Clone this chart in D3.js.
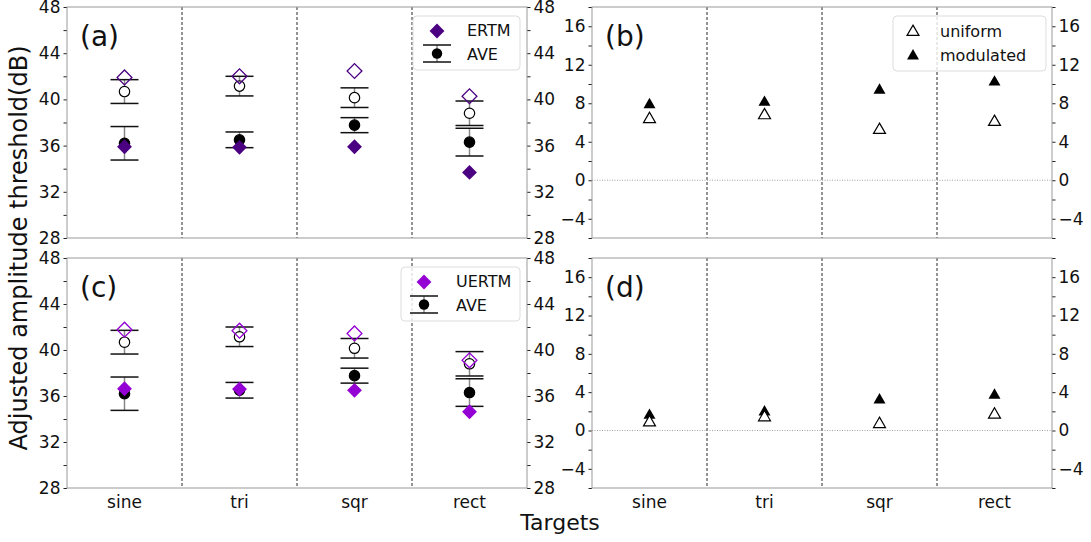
<!DOCTYPE html>
<html lang="en">
<head>
  <meta charset="UTF-8" />
  <title>Adjusted amplitude threshold</title>
  <script src="https://d3js.org/d3.v7.min.js"></script>
  <style>
    body { margin: 0; background: #fff; }
    svg { display: block; font-family: "DejaVu Sans", sans-serif; }
    .tick line { stroke: #222; }
  </style>
</head>
<body>
  <svg id="chart" width="1091" height="542"></svg>
  <script>
    const targets = ["sine", "tri", "sqr", "rect"];

    // AVE (same in panels a and c): uniform = open circle, modulated = filled circle
    const aveUniform = [40.68, 41.15, 40.15, 38.8];
    const aveUniformErr = [1.03, 0.85, 0.85, 1.06];
    const aveModulated = [36.2, 36.5, 37.77, 36.3];
    const aveModulatedErr = [1.45, 0.68, 0.65, 1.2];

    // ERTM (panel a) and UERTM (panel c): open = uniform, filled = modulated
    const ertmUniform = [41.9, 42.0, 42.46, 40.27];
    const ertmModulated = [35.9, 35.85, 35.9, 33.68];
    const uertmUniform = [41.77, 41.68, 41.44, 39.1];
    const uertmModulated = [36.63, 36.6, 36.49, 34.63];

    // panels b and d
    const bUniform = [6.35, 6.75, 5.22, 6.05];
    const bModulated = [7.85, 8.1, 9.35, 10.2];
    const dUniform = [0.84, 1.37, 0.67, 1.65];
    const dModulated = [1.58, 1.93, 3.19, 3.68];

    const leftTicks = [28, 32, 36, 40, 44, 48];
    const leftMinor = [30, 34, 38, 42, 46];
    const rightTicks = [-4, 0, 4, 8, 12, 16];
    const rightMinor = [-6, -2, 2, 6, 10, 14, 18];

    const svg = d3.select("#chart");

    const diamond = d3.symbol().type(d3.symbolSquare).size(110);
    const tri = d3.symbol().type(d3.symbolTriangle).size(62);

    function styleTicks(s) {
      s.select(".domain").remove();
      s.attr("font-family", "DejaVu Sans, sans-serif");
      s.selectAll("text").attr("font-size", 17).attr("fill", "#111");
    }

    function panel(box, domain, majors, minors, label, showX) {
      const x = d3.scaleBand().domain(targets).range([box.x0, box.x1]);
      const y = d3.scaleLinear().domain(domain).range([box.y1, box.y0]);
      const g = svg.append("g");

      // dashed separators
      g.selectAll("line.sep")
        .data(targets.slice(1))
        .join("line")
        .attr("x1", d => x(d)).attr("x2", d => x(d))
        .attr("y1", box.y0).attr("y2", box.y1)
        .attr("stroke", "#111").attr("stroke-width", 0.9)
        .attr("stroke-dasharray", "3,2");

      // axes: left and right with major and minor ticks
      [[d3.axisLeft, box.x0], [d3.axisRight, box.x1]].forEach(([ax, pos]) => {
        g.append("g").attr("transform", `translate(${pos},0)`)
          .call(ax(y).tickValues(majors).tickSize(3.5).tickPadding(3).tickFormat(d3.format("d")))
          .call(styleTicks);
        g.append("g").attr("transform", `translate(${pos},0)`)
          .call(ax(y).tickValues(minors).tickSize(3.5).tickFormat(""))
          .call(styleTicks);
      });

      if (showX) {
        g.append("g").attr("transform", `translate(0,${box.y1})`)
          .call(d3.axisBottom(x).tickSize(0).tickPadding(8))
          .call(styleTicks);
      }

      g.append("rect")
        .attr("x", box.x0).attr("y", box.y0)
        .attr("width", box.x1 - box.x0).attr("height", box.y1 - box.y0)
        .attr("fill", "none").attr("stroke", "#999").attr("stroke-width", 1);

      g.append("text")
        .attr("x", box.x0 + 13).attr("y", box.y0 + 39)
        .attr("font-size", 28).attr("fill", "#111")
        .text(label);

      return { g, x, y };
    }

    function errorPanel(box, label, uniformVals, modulatedVals, color, name, leg) {
      const { g, x, y } = panel(box, [28, 48], leftTicks, leftMinor, label, box.y0 > 200);
      const cx = i => x(targets[i]) + x.bandwidth() / 2;
      const ave = [
        { m: aveUniform, e: aveUniformErr, fill: "#fff" },
        { m: aveModulated, e: aveModulatedErr, fill: "#000" }
      ];
      ave.forEach(s => {
        targets.forEach((t, i) => {
          const lo = y(s.m[i] - s.e[i]), hi = y(s.m[i] + s.e[i]);
          g.append("line").attr("x1", cx(i)).attr("x2", cx(i))
            .attr("y1", lo).attr("y2", hi).attr("stroke", "#888").attr("stroke-width", 1.5);
          [lo, hi].forEach(v => g.append("line")
            .attr("x1", cx(i) - 14).attr("x2", cx(i) + 14)
            .attr("y1", v).attr("y2", v).attr("stroke", "#111").attr("stroke-width", 1.5));
        });
        g.selectAll(null).data(s.m).join("circle")
          .attr("cx", (d, i) => cx(i)).attr("cy", d => y(d)).attr("r", 5.2)
          .attr("fill", s.fill).attr("stroke", "#000").attr("stroke-width", 1.2);
      });
      g.selectAll(null).data(uniformVals).join("path")
        .attr("d", diamond)
        .attr("transform", (d, i) => `translate(${cx(i)},${y(d)}) rotate(45)`)
        .attr("fill", "none").attr("stroke", color).attr("stroke-width", 1.3);
      g.selectAll(null).data(modulatedVals).join("path")
        .attr("d", diamond)
        .attr("transform", (d, i) => `translate(${cx(i)},${y(d)}) rotate(45)`)
        .attr("fill", color);

      // legend
      const lg = svg.append("g").attr("transform", `translate(${box.x1 - leg.w - 7},${box.y0 + 9})`);
      lg.append("rect").attr("width", leg.w).attr("height", 54).attr("rx", 4)
        .attr("fill", "#fff").attr("fill-opacity", 0.8).attr("stroke", "#ddd");
      lg.append("path").attr("d", diamond)
        .attr("transform", `translate(${leg.mx},15) rotate(45)`).attr("fill", color);
      lg.append("line").attr("x1", leg.mx).attr("x2", leg.mx).attr("y1", 29).attr("y2", 46)
        .attr("stroke", "#888").attr("stroke-width", 1.5);
      [29, 46].forEach(v => lg.append("line").attr("x1", leg.mx - 14).attr("x2", leg.mx + 14)
        .attr("y1", v).attr("y2", v).attr("stroke", "#111").attr("stroke-width", 1.5));
      lg.append("circle").attr("cx", leg.mx).attr("cy", 37.5).attr("r", 5.2).attr("fill", "#000");
      lg.append("text").attr("x", leg.tx).attr("y", 20).attr("font-size", 16).attr("fill", "#111").text(name);
      lg.append("text").attr("x", leg.tx).attr("y", 44).attr("font-size", 16).attr("fill", "#111").text("AVE");
    }

    function diffPanel(box, label, uniformVals, modulatedVals, withLegend) {
      const { g, x, y } = panel(box, [-6, 18], rightTicks, rightMinor, label, box.y0 > 200);
      const cx = i => x(targets[i]) + x.bandwidth() / 2;
      g.append("line").attr("x1", box.x0).attr("x2", box.x1)
        .attr("y1", y(0)).attr("y2", y(0))
        .attr("stroke", "#999").attr("stroke-width", 0.9).attr("stroke-dasharray", "1,1.5");
      g.selectAll(null).data(modulatedVals).join("path")
        .attr("d", tri).attr("transform", (d, i) => `translate(${cx(i)},${y(d)})`)
        .attr("fill", "#000");
      g.selectAll(null).data(uniformVals).join("path")
        .attr("d", tri).attr("transform", (d, i) => `translate(${cx(i)},${y(d)})`)
        .attr("fill", "#fff").attr("stroke", "#000").attr("stroke-width", 1.2);

      if (withLegend) {
        const lg = svg.append("g").attr("transform", `translate(${box.x1 - 159},${box.y0 + 9})`);
        lg.append("rect").attr("width", 153).attr("height", 55).attr("rx", 4)
          .attr("fill", "#fff").attr("fill-opacity", 0.8).attr("stroke", "#ddd");
        lg.append("path").attr("d", tri).attr("transform", "translate(20,16)")
          .attr("fill", "#fff").attr("stroke", "#000").attr("stroke-width", 1.2);
        lg.append("path").attr("d", tri).attr("transform", "translate(20,40)").attr("fill", "#000");
        lg.append("text").attr("x", 47).attr("y", 21).attr("font-size", 16).attr("fill", "#111").text("uniform");
        lg.append("text").attr("x", 47).attr("y", 45).attr("font-size", 16).attr("fill", "#111").text("modulated");
      }
    }

    errorPanel({ x0: 67, x1: 527, y0: 7, y1: 238 }, "(a)", ertmUniform, ertmModulated, "#4b0082", "ERTM",
      { w: 107, mx: 24, tx: 54 });
    diffPanel({ x0: 592, x1: 1052, y0: 7, y1: 238 }, "(b)", bUniform, bModulated, true);
    errorPanel({ x0: 67, x1: 527, y0: 258, y1: 488 }, "(c)", uertmUniform, uertmModulated, "#9400d3", "UERTM",
      { w: 119, mx: 23, tx: 55 });
    diffPanel({ x0: 592, x1: 1052, y0: 258, y1: 488 }, "(d)", dUniform, dModulated, false);

    svg.append("text")
      .attr("transform", "translate(27,248) rotate(-90)")
      .attr("text-anchor", "middle").attr("font-size", 24).attr("fill", "#111")
      .text("Adjusted amplitude threshold(dB)");
    svg.append("text")
      .attr("x", 560).attr("y", 530)
      .attr("text-anchor", "middle").attr("font-size", 22).attr("fill", "#111")
      .text("Targets");
  </script>
</body>
</html>
